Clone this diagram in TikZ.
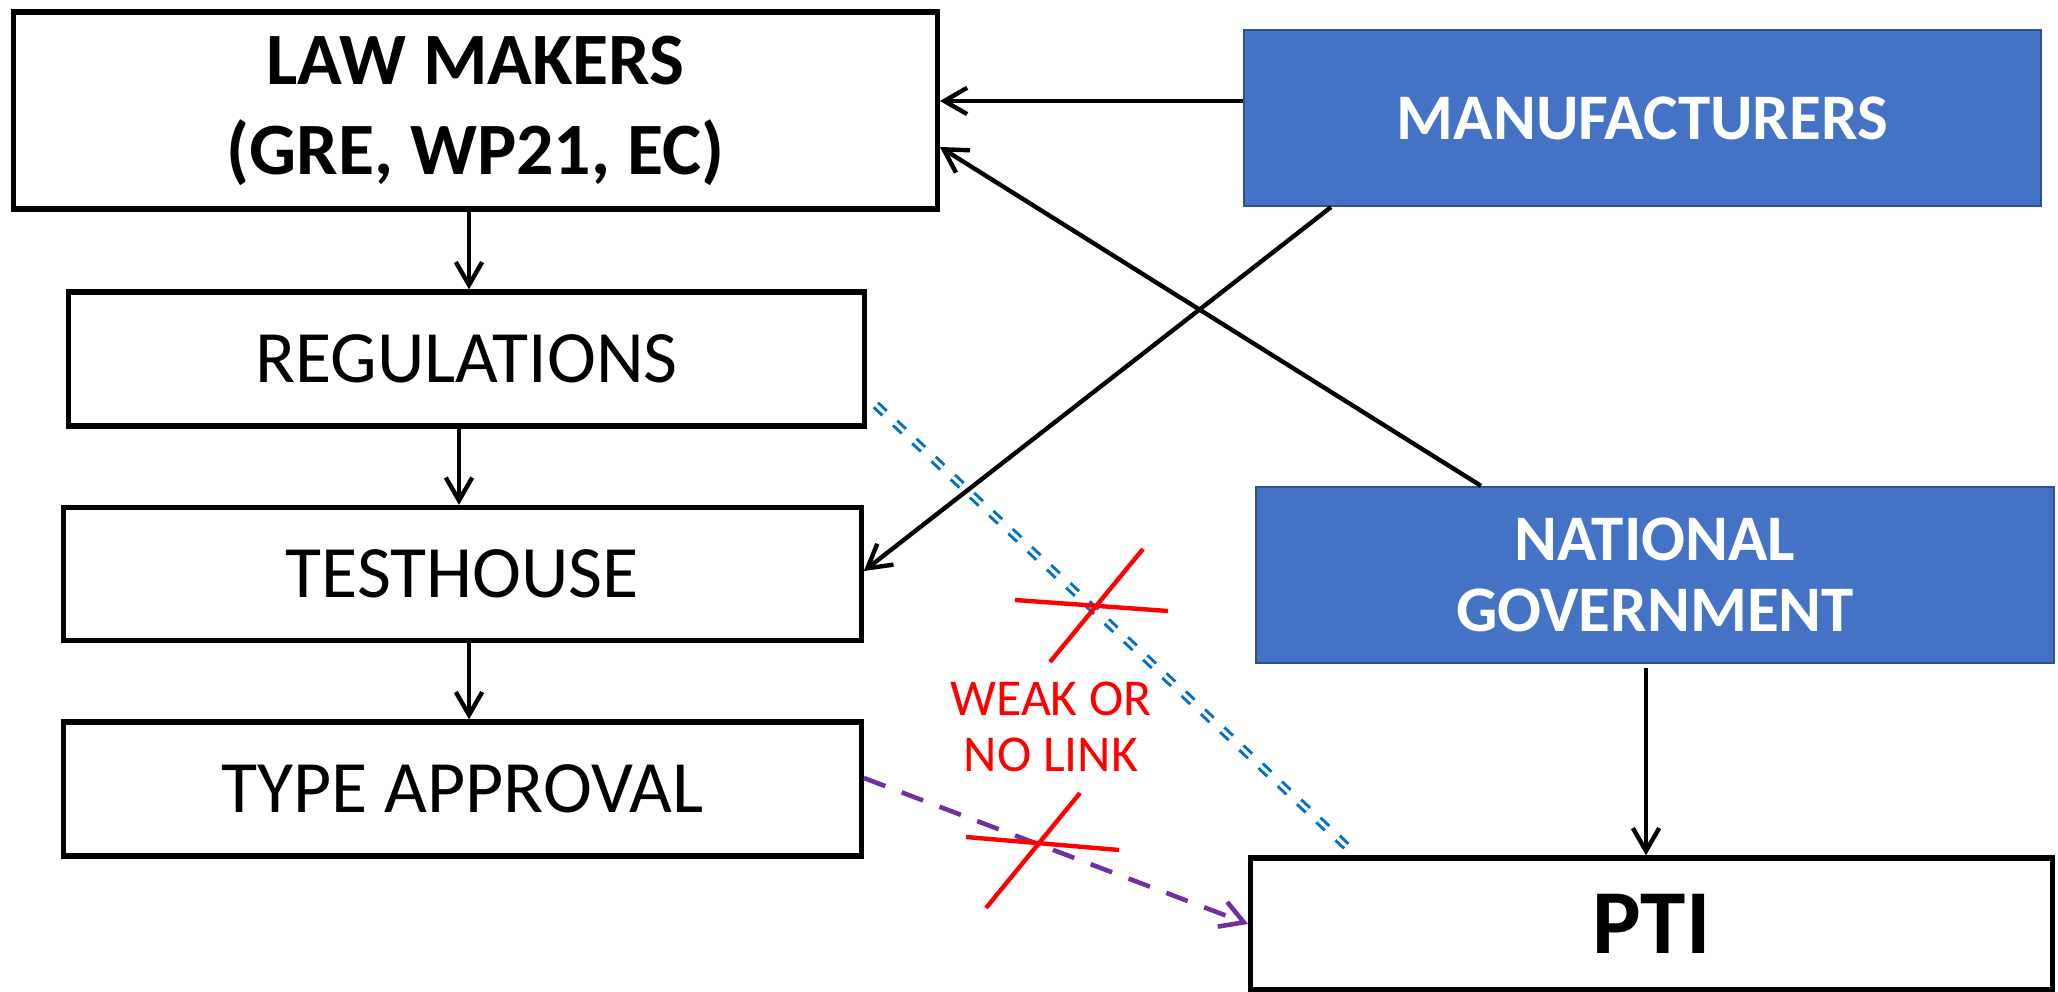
\documentclass[tikz,border=0pt]{standalone}
\usepackage{fontspec}
\setmainfont{Carlito}
\usetikzlibrary{arrows.meta}
\definecolor{boxblue}{HTML}{4472C4}
\definecolor{boxblueedge}{HTML}{2F528F}
\definecolor{linkblue}{HTML}{0070C0}
\definecolor{linkpurple}{HTML}{7030A0}
\definecolor{crossred}{HTML}{FF0000}
\begin{document}
\begin{tikzpicture}[x=0.01cm,y=-0.01cm,
  wbox/.style={draw=black, line width=1.5pt, fill=white, rectangle, inner sep=0pt, align=center, font=\fontsize{21}{25.6}\selectfont},
  bbox/.style={draw=boxblueedge, line width=0.6pt, fill=boxblue, text=white, rectangle, inner sep=0pt, align=center, font=\fontsize{18.5}{20.3}\selectfont\bfseries},
  arr/.style={line width=1.25pt, -{Straight Barb[length=6.5pt,width=7.5pt]}},
  bluelink/.style={draw=linkblue, line width=0.85pt, double=white, double distance=0.9pt, dash pattern=on 3.4pt off 4.1pt},
  purplelink/.style={draw=linkpurple, line width=1.3pt, dash pattern=on 6.5pt off 5pt, -{Straight Barb[length=6.5pt,width=7.5pt]}},
  redx/.style={draw=crossred, line width=1.25pt}
]
\fill[white] (0,0) rectangle (2058,992);
\useasboundingbox (0,0) rectangle (2058,992);

\node[wbox, font=\fontsize{21}{25.6}\selectfont\bfseries, minimum width=9.23cm, minimum height=1.97cm] (law) at (475.5,110.5) {LAW MAKERS\\(GRE, WP21, EC)};
\node[wbox, minimum width=7.95cm, minimum height=1.34cm] (reg) at (466.5,359) {REGULATIONS};
\node[wbox, minimum width=7.97cm, minimum height=1.33cm] (test) at (462.5,574) {TESTHOUSE};
\node[wbox, minimum width=7.97cm, minimum height=1.34cm] (type) at (462.5,789) {TYPE APPROVAL};
\node[bbox, minimum width=7.97cm, minimum height=1.76cm] (manuf) at (1642.4,118) {MANUFACTURERS};
\node[bbox, minimum width=7.98cm, minimum height=1.76cm] (natgov) at (1655,575) {NATIONAL\\GOVERNMENT};
\node[wbox, font=\fontsize{26}{30}\selectfont\bfseries, minimum width=8.01cm, minimum height=1.32cm] (pti) at (1651.5,924) {PTI};

\draw[arr] (law.south -| 469,0) -- (reg.north -| 469,0);
\draw[arr] (reg.south -| 459,0) -- (test.north -| 459,0);
\draw[arr] (test.south -| 469,0) -- (type.north -| 469,0);
\draw[arr] (manuf.west |- 0,101) -- (law.east |- 0,101);
\draw[arr] (natgov.north -| 1481,0) -- (law.east |- 0,147);
\draw[arr] (manuf.south -| 1331,0) -- (test.east |- 0,571);
\draw[arr] ([yshift=-0.04cm]natgov.south -| 1646,0) -- (pti.north -| 1646,0);

\draw[bluelink] ([xshift=0.09cm]reg.east |- 0,405) -- (pti.north -| 1356,0);
\draw[purplelink] (type.east |- 0,778) -- (pti.west |- 0,924);

\draw[redx] (1015,600) -- (1168,611);
\draw[redx] (1143,549) -- (1050,662);
\draw[redx] (966,837) -- (1119,850);
\draw[redx] (1080,793) -- (986,908);

\node[text=crossred, font=\fontsize{14.7}{16}\selectfont, align=center, inner sep=0pt] (weak) at (1051,727) {WEAK OR\\NO LINK};
\end{tikzpicture}
\end{document}
